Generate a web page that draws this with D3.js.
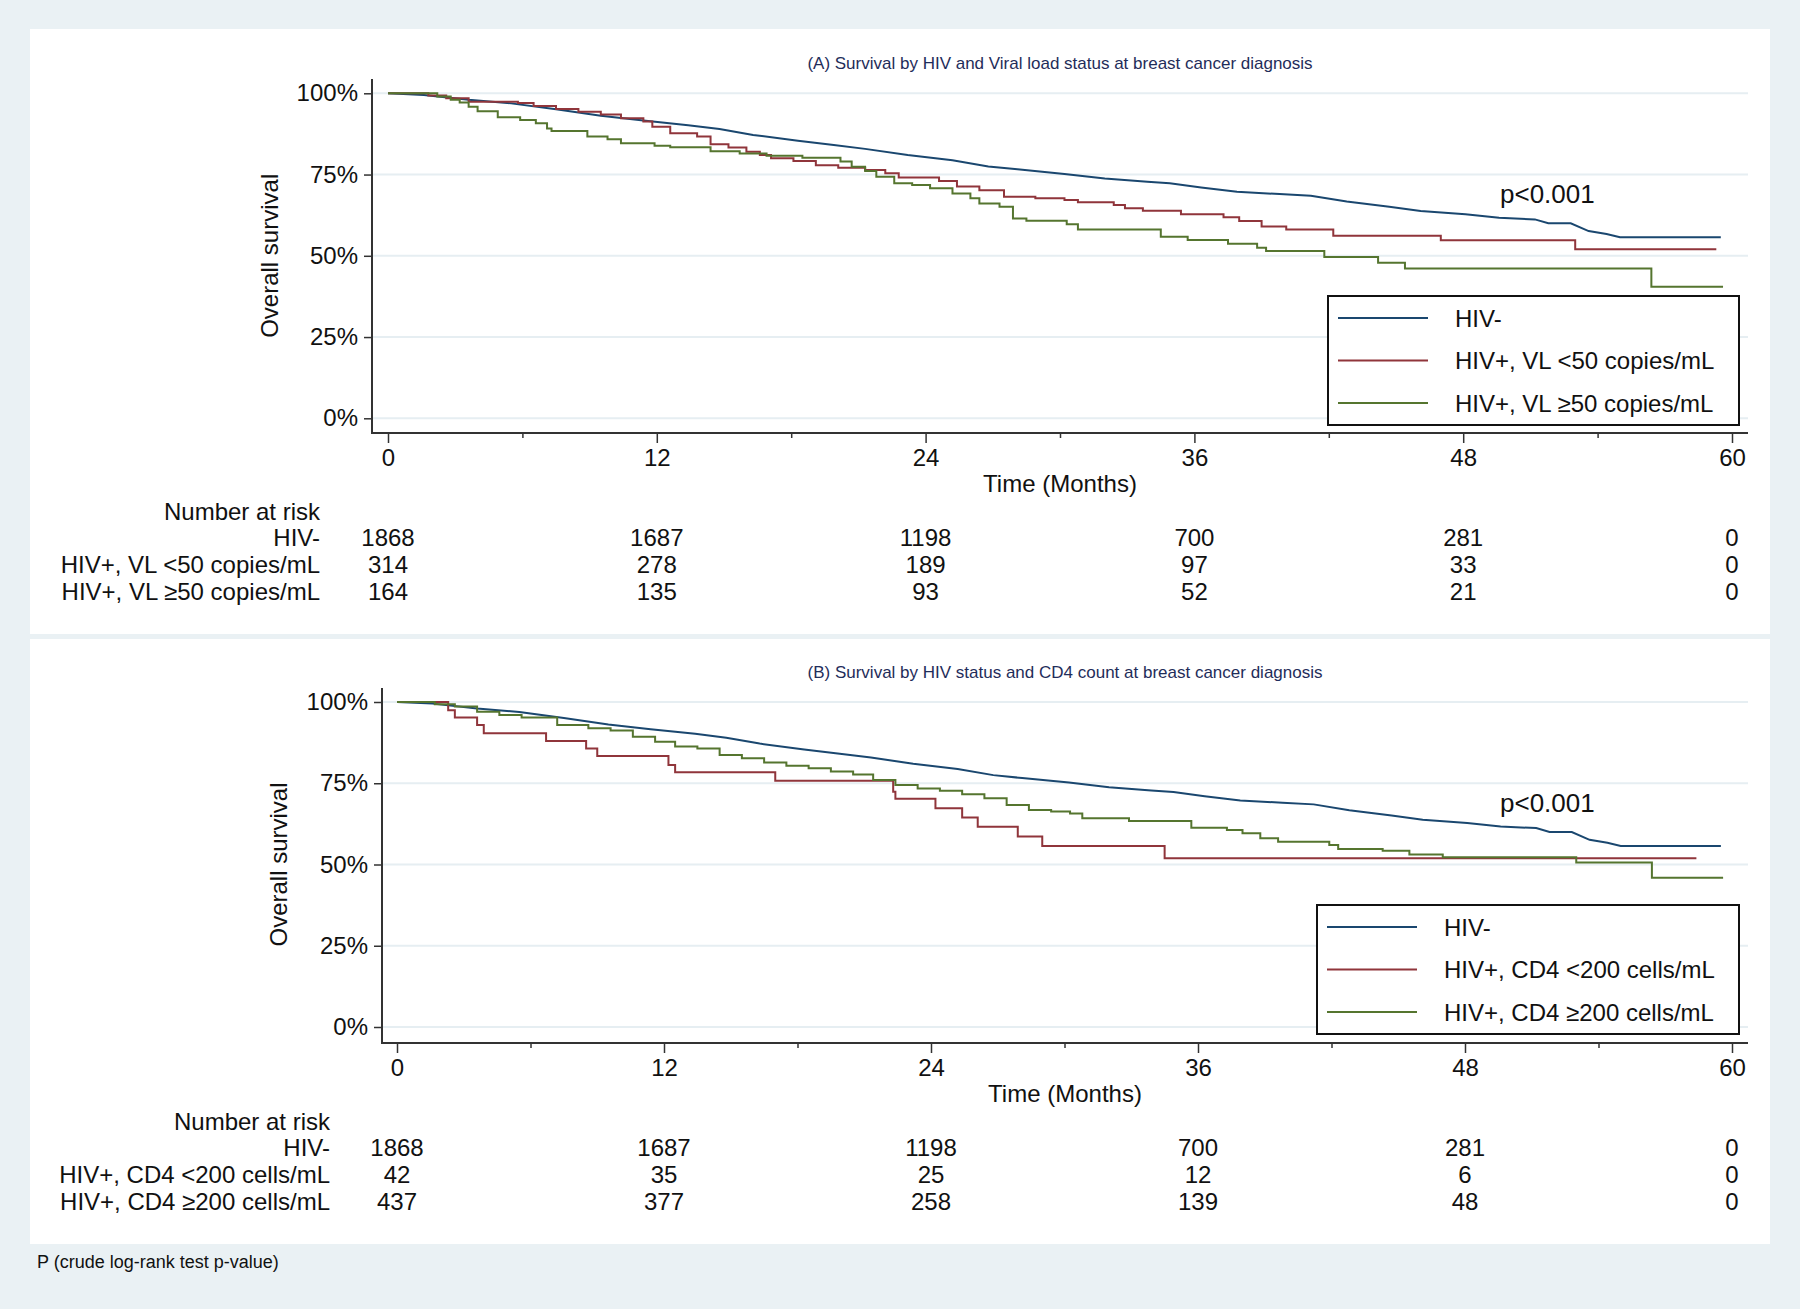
<!DOCTYPE html>
<html>
<head>
<meta charset="utf-8">
<script src="https://cdn.jsdelivr.net/npm/d3@7"></script>
<style>
  body { margin: 0; background: #eaf1f4; }
  svg text { font-family: "Liberation Sans", Arial, sans-serif; fill: #111; }
  .grid { stroke: #e6eef2; stroke-width: 2; }
  .axisline { stroke: #333; stroke-width: 2; }
  .tick line { stroke: #333; stroke-width: 1.5; }
  .km { fill: none; stroke-width: 2; }
</style>
</head>
<body>
<div id="chart"></div>
<script>
// ---- data ----
var monthTicks = [0, 12, 24, 36, 48, 60];
var minorTicks = [6, 18, 30, 42, 54];
var survTicks = [0, 25, 50, 75, 100];

var groupsA = ["HIV-", "HIV+, VL <50 copies/mL", "HIV+, VL \u226550 copies/mL"];
var groupsB = ["HIV-", "HIV+, CD4 <200 cells/mL", "HIV+, CD4 \u2265200 cells/mL"];
var colors = ["#1a476f", "#90353b", "#55752f"];

// [month, survival %]
var hivNeg = [[0,100],[1.6,99.5],[3.6,98],[5.5,96.9],[7.5,95.1],[9.5,93.1],[11.4,91.6],[13.4,90.2],
  [14.8,89],[16.3,87.2],[18.3,85.4],[19.9,84.1],[21.3,82.9],[23.2,81],[25.2,79.4],[26.8,77.5],
  [28.1,76.6],[30.2,75.2],[32,73.8],[33.9,72.8],[34.9,72.3],[36.3,71],[37.9,69.7],[39.8,69],
  [41.2,68.5],[42.8,66.7],[44.7,65.1],[46.1,63.8],[48.1,62.8],[49.6,61.7],[51.2,61.2],[51.8,60],
  [52.8,60],[53.6,57.6],[54.4,56.7],[55,55.7],[59.5,55.7]];
var vlLow = [[0,100],[1.8,99.3],[2.6,98.5],[3.6,97.4],[5.8,97.0],[6.5,96.1],[7.5,95.2],[8.5,94.3],
  [9.5,93.5],[10.4,92.3],[11.4,91.3],[11.8,89.7],[12.6,87.7],[13.8,86.7],[14.4,84.3],[15.2,83.3],
  [16,82],[16.6,81],[17.1,80],[18.1,79.2],[19.1,77.9],[20.1,77.1],[21.3,76.4],[22.2,75.4],
  [22.8,74.1],[24.6,73],[25.4,71.3],[26.4,70.2],[27.5,68.2],[28.9,67.7],[30.2,67.2],[30.8,66.5],
  [32.4,65.6],[32.9,64.6],[33.7,63.9],[35.4,62.8],[37.3,61.9],[38,60.7],[39,59],[40.1,58.1],
  [42.2,56.2],[47,54.8],[53,52],[59.3,52]];
var vlHigh = [[0,100],[2.2,99],[2.8,98],[3.2,97.2],[3.6,95.9],[4.0,94.5],[4.9,92.6],[5.9,91.8],
  [6.6,90.8],[7.1,89.2],[7.3,88.4],[8.9,86.7],[9.8,85.9],[10.4,84.6],[11.9,83.9],[12.6,83.4],
  [14.4,82.2],[15.7,81.5],[16.9,80.8],[18.5,80.2],[20.2,79],[20.7,77.4],[21.3,76.1],[21.8,74.3],
  [22.6,72.3],[23.4,71.8],[24.2,70.8],[25.2,69.2],[26,67.7],[26.4,66.1],[27.3,65.1],[27.9,61.5],
  [28.5,60.8],[30.3,59.7],[30.8,58.1],[34.5,55.9],[35.7,54.9],[37.5,53.7],[38.8,52.5],[39.2,51.5],
  [41.8,49.6],[44.2,47.9],[45.4,46.1],[56.4,40.5],[59.6,40.5]];
var cd4Low = [[0,100],[2.3,97.5],[2.6,95.2],[3.6,92.9],[3.9,90.4],[6.7,88],[8.5,85.7],[9.0,83.4],
  [12.2,80.6],[12.5,78.4],[17.0,75.8],[22.3,72.4],[22.4,70.2],[24.2,67.3],[25.4,64.5],[26.1,61.6],
  [27.9,58.6],[29,55.7],[34.5,51.9],[58.4,51.9]];
var cd4High = [[0,100],[1.7,99.3],[2.6,98.6],[3.6,97],[4.6,96],[5.6,95.2],[7.2,92.9],[8.6,91.9],
  [9.6,91.2],[10.6,89.3],[11.6,87.8],[12.5,86.3],[13.5,85.7],[14.5,83.7],[15.5,82.7],[16.5,81.4],
  [17.5,80.4],[18.5,79.6],[19.5,78.6],[20.5,77.7],[21.4,76],[22.4,74.5],[23.4,73.4],[24.4,72.7],
  [25.4,71.6],[26.4,70.4],[27.4,68.3],[28.4,66.8],[29.4,66.3],[30.25,65.7],[30.8,64.2],[32.9,63.4],
  [35.7,61.3],[37.3,60.6],[38,59.6],[38.8,58.1],[39.6,57],[41.9,56],[42.3,54.8],[44.3,54.2],
  [45.5,53.1],[47,52.2],[53,50.6],[56.4,45.9],[59.6,45.9]];

// number at risk at monthTicks
var riskHivNeg = [1868, 1687, 1198, 700, 281, 0];
var riskVlLow = [314, 278, 189, 97, 33, 0];
var riskVlHigh = [164, 135, 93, 52, 21, 0];
var riskCd4Low = [42, 35, 25, 12, 6, 0];
var riskCd4High = [437, 377, 258, 139, 48, 0];

var titleA = "(A) Survival by HIV and Viral load status at breast cancer diagnosis";
var titleB = "(B) Survival by HIV status and CD4 count at breast cancer diagnosis";

// ---- drawing ----
var W = 1800, H = 1309;
var svg = d3.select("#chart").append("svg")
  .attr("width", W).attr("height", H);

svg.append("rect").attr("width", W).attr("height", H).attr("fill", "#eaf1f4");

function drawPanel(p) {
  svg.append("rect")
    .attr("x", 30).attr("y", p.top)
    .attr("width", 1740).attr("height", p.bottom - p.top)
    .attr("fill", "#fff");

  var g = svg.append("g");
  var x = d3.scaleLinear().domain([0, 60]).range([p.x0, 1732]);
  var y = d3.scaleLinear().domain([0, 100]).range([p.y0, p.y100]);
  var gridRight = 1748;
  var midX = (p.axisX + gridRight) / 2;

  // gridlines
  g.selectAll(".grid").data(survTicks).enter().append("line")
    .attr("class", "grid")
    .attr("x1", p.axisX).attr("x2", gridRight)
    .attr("y1", d => y(d)).attr("y2", d => y(d));

  // y axis
  var yAxis = d3.axisLeft(y).tickValues(survTicks).tickSize(8).tickPadding(6)
    .tickFormat(d => d + "%");
  g.append("g").attr("transform", "translate(" + p.axisX + ",0)")
    .call(yAxis)
    .call(a => a.select(".domain").remove())
    .selectAll("text").style("font-size", "24px").attr("fill", "#111");

  // x axis, major and minor ticks
  var xAxis = d3.axisBottom(x).tickValues(monthTicks).tickSize(10).tickPadding(6);
  g.append("g").attr("transform", "translate(0," + p.axisY + ")")
    .call(xAxis)
    .call(a => a.select(".domain").remove())
    .selectAll("text").style("font-size", "24px").attr("fill", "#111");
  g.append("g").attr("transform", "translate(0," + p.axisY + ")")
    .call(d3.axisBottom(x).tickValues(minorTicks).tickSize(5).tickFormat(""))
    .call(a => a.select(".domain").remove());

  g.append("line").attr("class", "axisline")
    .attr("x1", p.axisX).attr("x2", p.axisX)
    .attr("y1", p.axisTop).attr("y2", p.axisY + 1);
  g.append("line").attr("class", "axisline")
    .attr("x1", p.axisX - 1).attr("x2", gridRight)
    .attr("y1", p.axisY).attr("y2", p.axisY);

  // curves
  p.series.forEach(function (s, i) {
    var line = d3.line()
      .x(d => x(d[0])).y(d => y(d[1]))
      .curve(i === 0 ? d3.curveLinear : d3.curveStepAfter);
    g.append("path").attr("class", "km")
      .attr("stroke", colors[i])
      .attr("d", line(s));
  });

  // titles
  g.append("text").attr("x", midX).attr("y", p.titleY)
    .attr("text-anchor", "middle").attr("dominant-baseline", "central")
    .style("font-size", "17px").style("fill", "#1f2d5a").text(p.title);
  g.append("text")
    .attr("transform", "translate(" + p.ytitleX + "," + (y(50)) + ") rotate(-90)")
    .attr("text-anchor", "middle").attr("dominant-baseline", "central")
    .style("font-size", "24px").text("Overall survival");
  g.append("text").attr("x", midX).attr("y", p.axisY + 50)
    .attr("text-anchor", "middle").attr("dominant-baseline", "central")
    .style("font-size", "24px").text("Time (Months)");

  g.append("text").attr("x", 1500).attr("y", p.pY)
    .attr("dominant-baseline", "central")
    .style("font-size", "26px").text("p<0.001");

  // legend
  var lg = g.append("g");
  lg.append("rect")
    .attr("x", p.leg.x).attr("y", p.leg.y)
    .attr("width", 1739 - p.leg.x).attr("height", 129)
    .attr("fill", "#fff").attr("stroke", "#111").attr("stroke-width", 2);
  p.groups.forEach(function (name, i) {
    var ly = p.leg.y + 22 + i * 42.5;
    lg.append("line")
      .attr("x1", p.leg.x + 10).attr("x2", p.leg.x + 100)
      .attr("y1", ly).attr("y2", ly)
      .attr("stroke", colors[i]).attr("stroke-width", 2);
    lg.append("text").attr("x", p.leg.x + 127).attr("y", ly)
      .attr("dominant-baseline", "central")
      .style("font-size", "24px").text(name);
  });

  // number at risk table
  var labelX = p.axisX - 52;
  g.append("text").attr("x", labelX).attr("y", p.axisY + 78)
    .attr("text-anchor", "end").attr("dominant-baseline", "central")
    .style("font-size", "24px").text("Number at risk");
  p.groups.forEach(function (name, i) {
    var ry = p.axisY + 104.5 + i * 27;
    g.append("text").attr("x", labelX).attr("y", ry)
      .attr("text-anchor", "end").attr("dominant-baseline", "central")
      .style("font-size", "24px").text(name);
    g.selectAll(null).data(p.risk[i]).enter().append("text")
      .attr("x", (d, j) => x(monthTicks[j]))
      .attr("y", ry)
      .attr("text-anchor", "middle").attr("dominant-baseline", "central")
      .style("font-size", "24px").text(d => d);
  });
}

drawPanel({
  top: 29, bottom: 634,
  axisX: 372, x0: 388, y0: 418.3, y100: 93.3, axisY: 433, axisTop: 79,
  titleY: 63, ytitleX: 269, pY: 194,
  title: titleA, groups: groupsA,
  series: [hivNeg, vlLow, vlHigh],
  risk: [riskHivNeg, riskVlLow, riskVlHigh],
  leg: {x: 1328, y: 296}
});

drawPanel({
  top: 639, bottom: 1244,
  axisX: 382, x0: 397, y0: 1027, y100: 702, axisY: 1043, axisTop: 688,
  titleY: 672, ytitleX: 278, pY: 803,
  title: titleB, groups: groupsB,
  series: [hivNeg, cd4Low, cd4High],
  risk: [riskHivNeg, riskCd4Low, riskCd4High],
  leg: {x: 1317, y: 905}
});

svg.append("text").attr("x", 37).attr("y", 1262)
  .attr("dominant-baseline", "central")
  .style("font-size", "18px").text("P (crude log-rank test p-value)");
</script>
</body>
</html>
